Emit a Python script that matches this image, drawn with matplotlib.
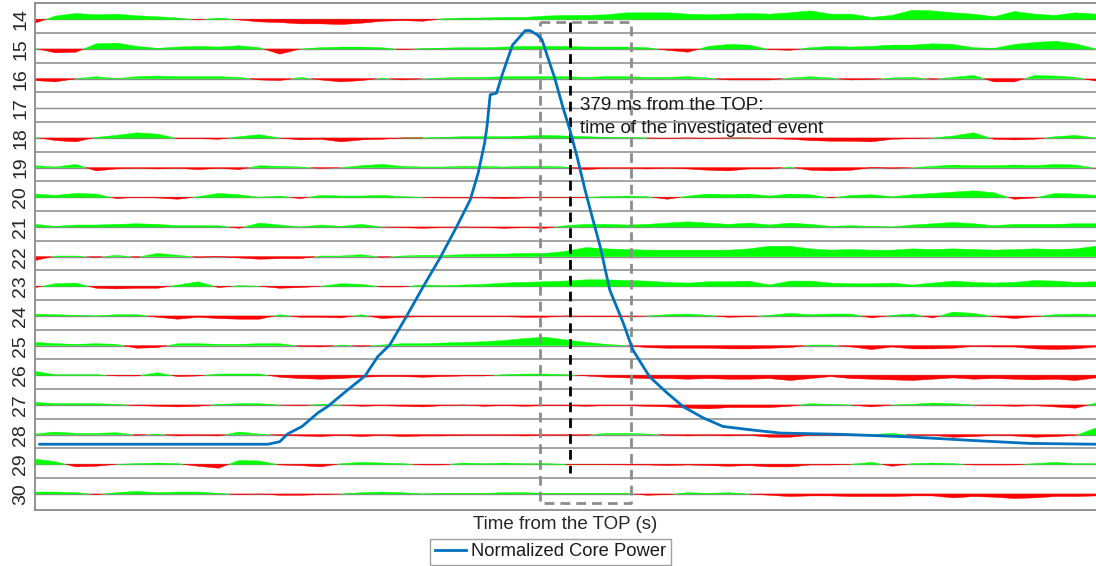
import numpy as np
import matplotlib
matplotlib.use("Agg")
import matplotlib.pyplot as plt
from matplotlib.lines import Line2D

plt.rcParams['font.family'] = ['Liberation Sans', 'DejaVu Sans']

# Channel numbers, top to bottom
channels = list(range(14, 31))

# Detrended channel signals, uniformly sampled over the time window (arbitrary units)
sig14 = [-3, 2.5, 4.5, 3.5, 4, 2.7, 2, 1, -0.5, 1, -0.5, -2, -2.5, -3.5, -3.5, -4, -3, -1.5,
         -1, -1.5, 0.5, 1, 1, 1.5, 1.5, 2.5, 3, 3, 3.5, 5, 5, 5, 4, 3.5, 4, 4.5,
         4, 5, 6.5, 4, 4, 1.5, 3, 7, 6.5, 5, 4, 2, 6, 4, 3, 5, 4]
sig15 = [0.5, -3, -2.5, 4, 4.5, 2, 0.5, 1.5, 2, 1.5, 2.5, 1, -4, 0, 1, 1.5, 1.5, 1,
         -0.5, 0.3, 0.7, 1, 1, 1.5, 2, 2, 2, 1.5, 1.5, 1.5, 1, -1, -2.5, 2, 3.5, 3,
         -0.5, -1, 1, 2, 1.5, 2, 3, 3, 4, 3.5, 1, 0.5, 3.5, 5, 6, 4, 0]
sig16 = [-1.5, -2.5, 0, 1.5, 0, 1.5, 2, 1.5, 1.5, 1.5, 1, -1, -1.5, 1, -1, -2.5, -1.5, 0.5,
         -1, 0, 0.5, 1, 1, 1.5, 1.5, 1.5, 1.5, 1, 1.5, 1.5, 1, 1, 1.5, 0.5, -1, -1,
         -1, 0.5, 1.5, 0.5, -1, -0.5, 0.5, 1, -0.5, 1, 2.5, -2.5, -2.5, 2.5, 2, 1, -1.5]
sig17 = []  # no signal recorded on this channel
sig18 = [0.5, -2, -3, 0.5, 2, 4, 3, -0.5, -0.5, -1, 1, 2.5, 0, -1.5, -1, -3, -1.5, -1,
         0, 0, 0.5, 1, 1, 1, 1.5, 2, 1.5, 1, 0.5, 0.3, 0, -0.3, 0, -0.3, 0, 0,
         -0.5, -1, -2, -2.5, -2.5, -3, -1, -0.5, 0, 1.5, 4, -1, -1.5, -1, 1, 2, 0]
sig19 = [1.5, 0.5, 2.5, -2.5, -1, -0.5, -1, -0.5, -1.5, -0.5, -1.5, 1.5, 1, 0.5, -0.5, 0, 1.5, 2.5,
         1, 0.5, 0.5, 1, 1, 0.5, 1, 1, 0.5, -1.5, -0.5, -0.5, -1, -0.5, -1, -2, -2.5, -1,
         -1, 0.5, -2, -2.5, -2, 0, -0.5, 0, 1, 2, 1.5, 1.5, 2, 1.5, 2.5, 2, -0.5]
sig20 = [2.5, 1.5, 3, 2.5, -1, 0, -0.5, -1.5, 0.5, 3, 2, 0, 1, -1, 1.5, 1, 1, 1.5,
         0.5, 0, -0.5, -0.5, -0.5, -1, -0.5, 0, 0, 0, 0.5, 1, 0.5, -1.5, 1, 2.5, 2, 2.5,
         1, 2.5, 2, -0.5, 1.5, 2, 0.5, 2, 3, 4, 5, 3.5, -1.5, -0.5, 3, 2.5, 1.5]
sig21 = [2, 0.5, 1.5, 1.5, 2, 2.5, 2, 1, 1, 1, -1, 3, 1.5, 0, 1.5, 0.5, 2, 0,
         -0.5, -1, -0.5, 0, -0.5, -1, -0.5, -1, 1, 2, 2, 1.5, 2, 3, 4, 3, 2, 3,
         1.5, 3, 2, 0.5, 1, 0.5, 0, 1.5, 2.5, 3.5, 2.5, 1, 2, 2, 2, 2.5, 2.5]
sig22 = [-3, 0.5, 0.5, -0.5, 1, -0.5, 2.5, 1, -0.5, 0, -1, -2, -1.5, -1.5, 0.5, 0.5, 1.5, -0.5,
         0.5, 1, 1, 1.5, 2, 2, 2.5, 2.5, 4, 7, 6, 5.5, 5, 5, 5, 5, 5, 6,
         8, 8, 6, 5, 5.5, 5, 5, 6, 5.5, 6, 5.5, 5, 5.5, 6, 5.5, 6, 8]
sig23 = [-1, 2, 2.5, -1.5, -2, -1.5, -1.5, 1, 3.5, -1, 0.5, 0, -1.5, -1, 0, 2, 1.5, -0.5,
         -0.5, 1, 0.5, 1, 1.5, 2.5, 3, 3.5, 4, 5, 5, 4.5, 4, 3, 2.5, 3.5, 3.5, 4,
         1, 4, 4, 2.5, 2, 2, 2.5, 1, 2.5, 4, 3, 2.5, 3, 4.5, 4, 3, 3.5]
sig24 = [1.5, 1, 0.5, 0, 1, 1, -1, -2.5, -1, -2, -2.5, -2.5, 1, -1, -1, -1.5, 1, -2,
         -1, -0.5, -0.5, -0.5, -0.5, -0.5, -1, -1, 0, -0.5, -0.5, -0.5, 0, 1, 1.5, 0.5, -1, -0.5,
         0.5, 2, 1, 1.5, 1.5, -1.5, 0.5, 1.5, -1.5, 3, 2, -0.5, -2, -0.5, 1, 1.5, 1]
sig25 = [2.5, 1.5, 1, 1.5, 1, -2, -1.5, 1.5, 1.5, 1, 1, 1.5, 1.5, -0.5, -1, 0.5, -0.5, 0.5,
         1.5, 1.5, 2, 2.5, 3, 4, 5.5, 6.5, 4.5, 2.5, 1, 0, -1.5, -2, -2, -2, -2.5, -2.5,
         -2, -1.5, 0.5, 0.5, -1, -3, -1, -2.5, -2.5, -2, -0.5, -1, -1, -2.5, -3, -2.5, -1]
sig26 = [3, 0.5, 0.5, 0.5, -0.5, -0.5, 2, -1, -0.5, 1, 1, 1, -1.5, -2.5, -3, -2.5, -1.5, -1,
         -1, -1.5, -1, -0.5, -0.5, 0.5, 1, 1, 0.5, -0.5, -1.5, -2, -2.5, -2.5, -3, -2.5, -3, -3,
         -2.5, -4, -2.5, -1, -2.5, -3, -3.5, -4, -3, -2, -3, -2.5, -3, -3.5, -3, -4, -2]
sig27 = [2, 1, 1, 1, 0.5, -0.5, -1, -1.5, -1, 0.5, 1, 1, 0, -0.5, 0.5, 0, -1, -0.5,
         -1, -1.5, -0.5, 0, -1, -0.5, -1, -0.5, -0.5, -1, -0.5, -0.5, -1, -1.5, -2.5, -3, -2, -2,
         -2, -1, 1, 0.5, 0, -1.5, 0, 0.5, 1.5, 1, 0, -0.5, -1, -0.5, -1.5, -2.5, 1.5]
sig28 = [0.5, 2, 1, 1, 1.5, -0.5, 0.5, -1, -0.5, -1, 2, 0.5, -0.5, -1, -1.5, -0.5, -1.5, -0.5,
         -1.5, -1, -1, -0.5, -0.5, -0.5, -1, -0.5, -0.5, -0.5, 1, 1, 0.5, -0.5, -1, -0.5, -1, -0.5,
         -2, -2, -0.5, -0.5, -0.5, 0, 1, -0.5, -0.5, -2, -1.5, -0.5, -1, -2, -1.5, -0.5, 5]
sig29 = [4, 2, -2, -1.5, 0, 0.5, 1, 0.5, -1.5, -3, 3, 2.5, -0.5, -1, -2, 0.5, 1.5, 1,
         0.5, -0.5, -0.5, 1, 0.5, 1, 0.5, 0.5, 0, 0, 0, -0.5, -0.5, -1, -0.5, -1, -1.5, -1,
         -2, -2, -0.5, -0.5, 0, 1.5, -1.5, 0.5, 1, 0.5, -0.5, -0.5, -0.5, 0.5, 1.5, 0.5, 0.5]
sig30 = [1.5, 1.5, 1, -0.5, 1, 2, 1, 1.5, 1.5, 0.5, -0.5, 0, -1, -1, -0.5, 0, 1, 1.5,
         1, 0, 0.5, 0.5, 0.5, 1, 1, 0.5, 0.5, 0.5, 0.5, 0.5, -1, -0.5, 1, 0.5, 1, 0,
         -1, -2, -1.5, -1.5, -2, -2, -2, -1.5, -1.5, -3, -2, -2.5, -3.5, -3, -2, -2, -1.5]

signals = [sig14, sig15, sig16, sig17, sig18, sig19, sig20, sig21, sig22,
           sig23, sig24, sig25, sig26, sig27, sig28, sig29, sig30]

# Normalized core power versus time from the TOP (s)
power_t = [-0.286, 0.0, 0.015, 0.025, 0.043, 0.063, 0.075, 0.100, 0.122, 0.138, 0.153,
           0.174, 0.195, 0.216, 0.237, 0.254, 0.264, 0.272, 0.275, 0.279, 0.287, 0.294,
           0.307, 0.323, 0.329, 0.338, 0.344, 0.351, 0.360, 0.370, 0.379, 0.388, 0.398,
           0.408, 0.417, 0.429, 0.446, 0.458, 0.479, 0.501, 0.521, 0.546, 0.571, 0.605,
           0.643, 0.718, 0.802, 0.885, 0.956, 1.039]
power = [0.0, 0.0, 0.006, 0.025, 0.043, 0.076, 0.091, 0.131, 0.165, 0.212, 0.240,
         0.309, 0.381, 0.450, 0.526, 0.591, 0.656, 0.728, 0.768, 0.845, 0.849, 0.893,
         0.965, 1.0, 1.0, 0.990, 0.978, 0.937, 0.885, 0.816, 0.760, 0.695, 0.615,
         0.542, 0.478, 0.373, 0.293, 0.228, 0.163, 0.124, 0.091, 0.064, 0.043, 0.035,
         0.027, 0.024, 0.018, 0.009, 0.002, 0.0]

event_t = 0.379              # investigated event (s after the TOP)
window_t = (0.341, 0.456)    # analysis window around the event
t_start, t_end = -0.292, 1.039

GREEN = '#00ff00'
RED = '#ff0000'
GRID = '#a3a3a3'
TEXT = '#262626'
FS = 13.5

fig = plt.figure(figsize=(10.96, 5.66), dpi=100)
ax = fig.add_axes([35 / 1096, 56 / 566, 1 - 35 / 1096, 506.7 / 566])

gain = 1.3 / 29.67  # signal units per channel spacing
for ch, sig in zip(channels, signals):
    ax.hlines(ch, t_start, t_end, color='#8c8c8c', lw=1.0, zorder=1)
    if ch != channels[-1]:
        ax.hlines(ch + 0.46, t_start, t_end, color=GRID, lw=1.4, zorder=1)
    if len(sig) == 0:
        continue
    v = np.asarray(sig, dtype=float)
    t = np.linspace(t_start, t_end, len(v))
    y = ch - v * gain
    ax.fill_between(t, ch, y, where=v >= 0, interpolate=True,
                    color=GREEN, lw=0.3, zorder=2)
    ax.fill_between(t, ch, y, where=v <= 0, interpolate=True,
                    color=RED, lw=0.3, zorder=2)

ax.set_xlim(t_start, t_end)
ax.set_ylim(channels[-1] + 0.54, channels[0] - 0.54)
ax.set_yticks(channels)
ax.set_yticklabels([str(c) for c in channels], rotation=90, va='center',
                   fontsize=14, color=TEXT)
ax.tick_params(axis='y', length=0, pad=4)
ax.set_xticks([])
ax.set_xlabel('Time from the TOP (s)', fontsize=FS, color=TEXT, labelpad=4)
for side in ('top', 'left', 'bottom'):
    ax.spines[side].set_color('#8a8a8a')
    ax.spines[side].set_linewidth(1.3)
ax.spines['right'].set_visible(False)

# Analysis window and event marker
xf = ax.get_xaxis_transform()
w0, w1 = window_t
ax.plot([w0, w1, w1, w0, w0], [0.963, 0.963, 0.014, 0.014, 0.963], transform=xf,
        color='#8c8c8c', lw=2.0, ls=(0, (3.5, 2.2)), zorder=3, clip_on=False)
ax.plot([event_t, event_t], [0.963, 0.073], transform=xf,
        color='black', lw=2.0, ls=(0, (3.5, 2.2)), zorder=3)
ax.text(event_t + 0.0126, 16.62,
        '379 ms from the TOP:\ntime of the investigated event',
        fontsize=FS, color='#1a1a1a', va='top', ha='left', linespacing=1.42, zorder=5)

# Core power on its own scale
ax2 = ax.twinx()
ax2.set_ylim(-0.159, 1.066)
ax2.set_xlim(t_start, t_end)
ax2.axis('off')
ax2.plot(power_t, power, color='#0072BD', lw=2.0, zorder=4)

handle = Line2D([], [], color='#0072BD', lw=2.0)
leg = fig.legend([handle], ['Normalized Core Power'], loc='lower center',
                 bbox_to_anchor=(550.5 / 1096, 1 / 566), fontsize=13.2,
                 frameon=True, fancybox=False, edgecolor='#a0a0a0', framealpha=1,
                 borderpad=0.25, handlelength=1.7, handletextpad=0.25,
                 borderaxespad=0)
leg.get_frame().set_linewidth(1.0)
for txt in leg.get_texts():
    txt.set_color('#1a1a1a')

fig.savefig('out.png', dpi=100)
